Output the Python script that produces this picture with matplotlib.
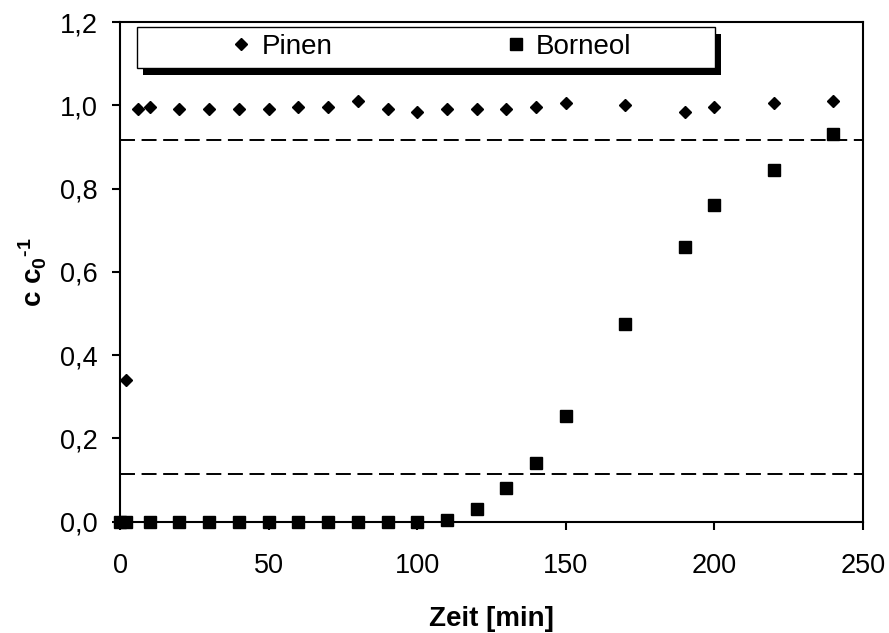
import numpy as np
import matplotlib
matplotlib.use('Agg')
import matplotlib.pyplot as plt
from matplotlib.patches import Rectangle
from matplotlib.ticker import FuncFormatter, MultipleLocator

plt.rcParams['font.family'] = ['Liberation Sans', 'DejaVu Sans']
plt.rcParams['mathtext.fontset'] = 'custom'
plt.rcParams['mathtext.rm'] = 'Liberation Sans:bold'
plt.rcParams['mathtext.it'] = 'Liberation Sans:bold'
plt.rcParams['mathtext.bf'] = 'Liberation Sans:bold'

# data
pinen_t = [2, 6, 10, 20, 30, 40, 50, 60, 70, 80, 90, 100, 110, 120, 130, 140, 150, 170, 190, 200, 220, 240]
pinen_c = [0.34, 0.99, 0.995, 0.99, 0.99, 0.99, 0.99, 0.995, 0.995, 1.01, 0.99, 0.985, 0.99, 0.99,
           0.99, 0.995, 1.005, 1.0, 0.985, 0.995, 1.005, 1.01]

borneol_t = [0, 2, 10, 20, 30, 40, 50, 60, 70, 80, 90, 100, 110, 120, 130, 140, 150, 170, 190, 200, 220, 240]
borneol_c = [0.0, 0.0, 0.0, 0.0, 0.0, 0.0, 0.0, 0.0, 0.0, 0.0, 0.0, 0.0, 0.005, 0.03, 0.08, 0.14,
             0.255, 0.475, 0.66, 0.76, 0.845, 0.93]

# breakthrough levels (dashed)
levels = [0.114, 0.917]

fig = plt.figure(figsize=(8.89, 6.33), dpi=100)
ax = fig.add_axes([0.135, 0.1758, 0.8358, 0.7894])

for lv in levels:
    ax.axhline(lv, color='black', lw=1.4, dashes=(7.7, 3.4), zorder=1)

ax.plot(pinen_t, pinen_c, 'D', color='black', ms=5.9, ls='none', clip_on=False, zorder=3, label='Pinen')
ax.plot(borneol_t, borneol_c, 's', color='black', ms=8.8, ls='none', clip_on=False, zorder=3, label='Borneol')

ax.set_xlim(0, 250)
ax.set_ylim(0, 1.2)
ax.xaxis.set_major_locator(MultipleLocator(50))
ax.yaxis.set_major_locator(MultipleLocator(0.2))
ax.yaxis.set_major_formatter(FuncFormatter(lambda v, p: f'{v:.1f}'.replace('.', ',')))
ax.tick_params(direction='out', length=5.8, width=1.5, labelsize=19.5)
ax.tick_params(axis='x', pad=16.5)
ax.tick_params(axis='y', pad=10)
ax.tick_params(top=False, right=False)
for s in ax.spines.values():
    s.set_linewidth(1.5)

ax.set_xlabel('Zeit [min]', fontsize=20, fontweight='bold', labelpad=20)
ax.set_ylabel(r'c c$_0$$^{\text{-}1}$', fontsize=20, fontweight='bold', labelpad=8)

# legend box with hard black shadow
x0, y0, w, h = 0.0229, 0.908, 0.778, 0.082
dx, dy = 0.0081, -0.014
ax.add_patch(Rectangle((x0 + dx, y0 + dy), w, h, transform=ax.transAxes,
                       facecolor='black', edgecolor='none', zorder=4, clip_on=False))
ax.add_patch(Rectangle((x0, y0), w, h, transform=ax.transAxes,
                       facecolor='white', edgecolor='black', lw=1.0, zorder=5, clip_on=False))
leg = ax.legend(loc='center', bbox_to_anchor=(0.42, 0.95), ncol=2,
                frameon=False, fontsize=20, handlelength=0.6, handletextpad=0.42,
                columnspacing=6.3, borderpad=0, borderaxespad=0)
leg.set_zorder(6)

fig.savefig('out.png', dpi=100)
